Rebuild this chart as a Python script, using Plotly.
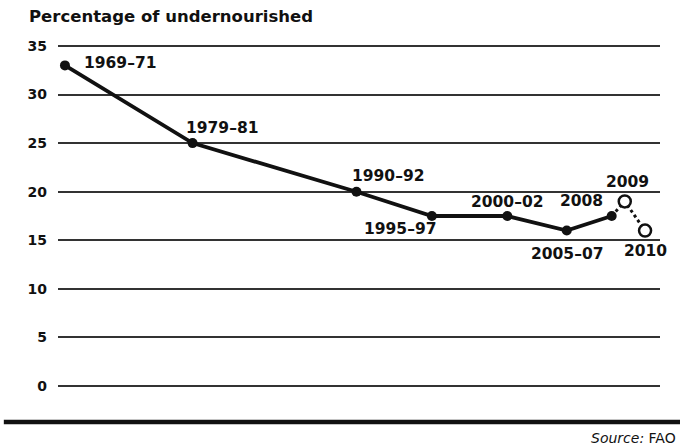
import plotly.graph_objects as go

periods = ["1969–71", "1979–81", "1990–92", "1995–97", "2000–02", "2005–07", "2008", "2009", "2010"]
# horizontal position of each period as placed on the chart (year scale)
positions = [1970.0, 1978.8, 1990.1, 1995.3, 2000.5, 2004.6, 2007.7, 2008.6, 2010.0]
share = [33.0, 25.0, 20.0, 17.5, 17.5, 16.0, 17.5, 19.0, 16.0]
y_ticks = [0, 5, 10, 15, 20, 25, 30, 35]

# label offsets (px) relative to each point
label_dx = [17, 29, 32, -32, 0, 0, -30, 3, 0]
label_dy = [2, 15, 16, -13, 14, -23, 15, 19, -20]
label_anchor = ["left", "center", "center", "center", "center", "center", "center", "center", "center"]

FONT = "DejaVu Sans"
INK = "#111111"
fig = go.Figure()

solid_n = 7
fig.add_trace(go.Scatter(
    x=positions[:solid_n], y=share[:solid_n], mode="lines+markers",
    line=dict(color=INK, width=3.8),
    marker=dict(size=10, color=INK),
    cliponaxis=False, hoverinfo="skip"))
fig.add_trace(go.Scatter(
    x=positions[solid_n - 1:], y=share[solid_n - 1:], mode="lines",
    line=dict(color=INK, width=3, dash="dot"),
    cliponaxis=False, hoverinfo="skip"))
fig.add_trace(go.Scatter(
    x=positions[solid_n:], y=share[solid_n:], mode="markers",
    marker=dict(size=12, color="white", line=dict(color=INK, width=2.5)),
    cliponaxis=False, hoverinfo="skip"))

for p, x, y, dx, dy, anc in zip(periods, positions, share, label_dx, label_dy, label_anchor):
    fig.add_annotation(x=x, y=y, text=p, showarrow=False, xshift=dx, yshift=dy, xanchor=anc,
                       font=dict(family=FONT, size=15.5, color=INK, weight="bold"))

# plot area: x 58..660 px, y ~44..388 px (range padded so edge gridlines show)
fig.add_annotation(xref="paper", yref="paper", x=-0.0515, y=1.08,
                   xanchor="left", yanchor="middle",
                   text="Percentage of undernourished", showarrow=False,
                   font=dict(family=FONT, size=16.5, color=INK, weight="bold"))
fig.add_annotation(xref="paper", yref="paper", x=1.03, y=-0.145,
                   xanchor="right", yanchor="middle", text="<i>Source:</i> FAO", showarrow=False,
                   font=dict(family=FONT, size=14, color=INK))
fig.add_shape(type="line", xref="paper", yref="paper", x0=-0.09, x1=1.04, y0=-0.099, y1=-0.099,
              line=dict(color=INK, width=4.5))

fig.update_layout(
    width=680, height=448, plot_bgcolor="white", paper_bgcolor="white",
    margin=dict(l=58, r=20, t=44, b=60), showlegend=False,
    xaxis=dict(range=[1969.52, 2011.03], showgrid=False, showticklabels=False,
               zeroline=False, showline=False, fixedrange=True),
    yaxis=dict(range=[-0.2, 35.2], tickvals=y_ticks, showgrid=True, gridcolor="#333333",
               gridwidth=1.5, zeroline=False, showline=False, ticks="", ticklabelstandoff=10,
               fixedrange=True,
               tickfont=dict(family=FONT, size=14, color=INK, weight="bold")),
)
fig.write_html("out.html", config={"displayModeBar": False},
               post_script="document.body.style.margin='0';")
